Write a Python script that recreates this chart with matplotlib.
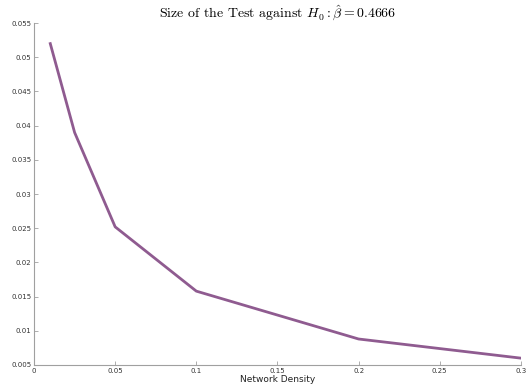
import matplotlib
matplotlib.use("Agg")
import matplotlib.pyplot as plt

density = [0.01, 0.025, 0.05, 0.1, 0.2, 0.3]
size = [0.0520, 0.0390, 0.0252, 0.0158, 0.0088, 0.0060]
xticks = [0, 0.05, 0.1, 0.15, 0.2, 0.25, 0.3]
xticklabels = ["0", "0.05", "0.1", "0.15", "0.2", "0.25", "0.3"]
yticks = [0.005, 0.01, 0.015, 0.02, 0.025, 0.03, 0.035, 0.04, 0.045, 0.05, 0.055]
yticklabels = ["0.005", "0.01", "0.015", "0.02", "0.025", "0.03", "0.035", "0.04", "0.045", "0.05", "0.055"]

plt.rcParams['mathtext.fontset'] = 'cm'

fig = plt.figure(figsize=(5.32, 3.85), dpi=100)
ax = fig.add_axes([0.064, 0.052, 0.915, 0.888])
ax.plot(density, size, color="#8f5b90", linewidth=2.0, solid_joinstyle='round')
ax.set_xlim(0, 0.3)
ax.set_ylim(0.005, 0.055)
ax.set_xticks(xticks)
ax.set_xticklabels(xticklabels)
ax.set_yticks(yticks)
ax.set_yticklabels(yticklabels)
for s in ['top', 'right']:
    ax.spines[s].set_visible(False)
for s in ['left', 'bottom']:
    ax.spines[s].set_color('#a0a0a0')
    ax.spines[s].set_linewidth(0.8)
ax.tick_params(axis='both', direction='in', length=3, width=0.6, color='#a0a0a0',
               labelsize=5, labelcolor='#333333', pad=2)
ax.set_xlabel("Network Density", fontsize=6.5, labelpad=1, color='#222222')
ax.set_title(r"Size of the Test against $H_0 : \hat{\beta} = 0.4666$",
             fontsize=10, family='cmr10', pad=4)
fig.savefig("out.png", dpi=100)
